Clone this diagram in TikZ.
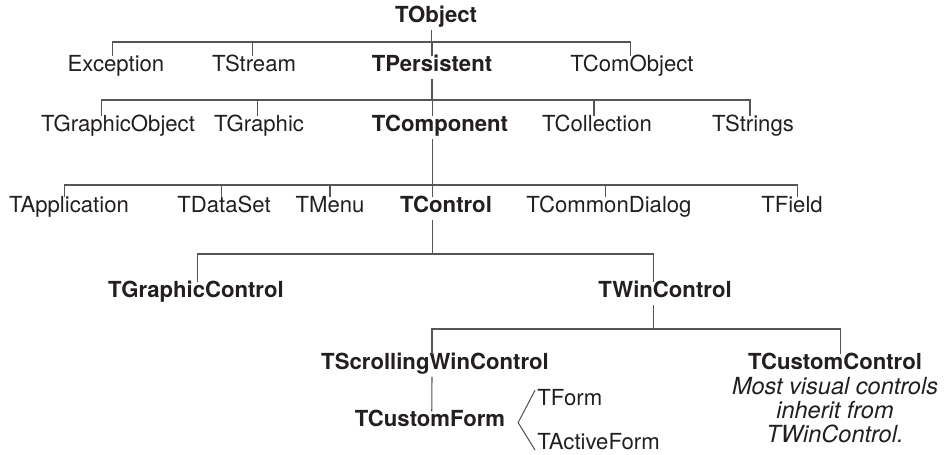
\documentclass[tikz,border=0pt]{standalone}
\usepackage{fontspec}
\setmainfont{TeX Gyre Heros}
\usetikzlibrary{positioning}
\definecolor{InkBlack}{RGB}{35,31,32}
\definecolor{LineGray}{RGB}{85,85,85}

\begin{document}
\begin{tikzpicture}[x=0.02cm,y=-0.02cm,
  cls/.style={anchor=base,inner sep=1.2pt,text=InkBlack,
              text height=0.75em,text depth=0.25em,
              font=\fontsize{12.6}{15}\selectfont},
  keycls/.style={cls,font=\fontsize{12.6}{15}\selectfont\bfseries},
  note/.style={inner sep=0pt,text=InkBlack,align=center,
               font=\fontsize{13.4}{13.6}\selectfont\itshape},
  link/.style={draw=LineGray,line width=0.6pt},
]
\useasboundingbox (0,0) rectangle (951,455);

%% level 0 and 1
\node[keycls] (tobj)    at (436,23)  {TObject};
\node[cls]    (exc)     at (116,72)  {Exception};
\node[cls]    (tstream) at (254,72)  {TStream};
\node[keycls] (tpers)   at (432,72)  {TPersistent};
\node[cls]    (tcom)    at (632,72)  {TComObject};

%% level 2
\node[cls]    (tgobj)   at (118,132) {TGraphicObject};
\node[cls]    (tgraph)  at (259,132) {TGraphic};
\node[keycls] (tcomp)   at (440,132) {TComponent};
\node[cls]    (tcoll)   at (597,132) {TCollection};
\node[cls]    (tstr)    at (753,132) {TStrings};

%% level 3
\node[cls]    (tapp)    at (69,213)  {TApplication};
\node[cls]    (tdata)   at (224,213) {TDataSet};
\node[cls]    (tmenu)   at (330,213) {TMenu};
\node[keycls] (tctrl)   at (446,213) {TControl};
\node[cls]    (tcdlg)   at (609,213) {TCommonDialog};
\node[cls]    (tfield)  at (792,213) {TField};

%% level 4 and below
\node[keycls] (tgctrl)  at (196,298) {TGraphicControl};
\node[keycls] (twin)    at (665,298) {TWinControl};
\node[keycls] (tscroll) at (435,370) {TScrollingWinControl};
\node[keycls] (tcctrl)  at (835,370) {TCustomControl};
\node[note,below=0pt of tcctrl] (hint)
  {Most visual controls\\inherit from\\TWinControl.};
\node[keycls] (tcform)  at (430,427) {TCustomForm};
\node[cls,anchor=base west] (tform)   at (535,406) {TForm};
\node[cls,anchor=base west] (tactive) at (535,450) {TActiveForm};

\coordinate (b1) at (0,42);
\coordinate (b2) at (0,100);
\coordinate (b3) at (0,185);
\coordinate (b4) at (0,254);
\coordinate (b5) at (0,329);

%% TObject
\draw[link] ([xshift=-2.3pt]tobj.south) -- ([xshift=-2.3pt]tobj.south |- b1);
\draw[link] ([xshift=-2pt]exc.north) |- ([xshift=-1pt]tcom.north |- b1)
  -- ([xshift=-1pt]tcom.north);
\draw[link] ([xshift=-1pt]tstream.north) -- ([xshift=-1pt]tstream.north |- b1);
\draw[link] (tpers.north) -- (tpers.north |- b1);

%% TPersistent
\draw[link] (tpers.south) -- (tpers.south |- b2);
\draw[link] ([xshift=-9.4pt]tgobj.north) |- ([xshift=-1.7pt]tstr.north |- b2)
  -- ([xshift=-1.7pt]tstr.north);
\draw[link] ([xshift=-1pt]tgraph.north) -- ([xshift=-1pt]tgraph.north |- b2);
\draw[link] ([xshift=-4.5pt]tcomp.north) -- ([xshift=-4.5pt]tcomp.north |- b2);
\draw[link] ([xshift=-1.7pt]tcoll.north) -- ([xshift=-1.7pt]tcoll.north |- b2);

%% TComponent
\draw[link] ([xshift=-4.5pt]tcomp.south) -- ([xshift=-4.5pt]tcomp.south |- b3);
\draw[link] ([xshift=-2.3pt]tapp.north) |- ([xshift=3.1pt]tfield.north |- b3)
  -- ([xshift=3.1pt]tfield.north);
\draw[link] ([xshift=-1.4pt]tdata.north) -- ([xshift=-1.4pt]tdata.north |- b3);
\draw[link] (tmenu.north) -- (tmenu.north |- b3);
\draw[link] ([xshift=-7.9pt]tctrl.north) -- ([xshift=-7.9pt]tctrl.north |- b3);
\draw[link] ([xshift=-2pt]tcdlg.north) -- ([xshift=-2pt]tcdlg.north |- b3);

%% TControl
\draw[link] ([xshift=-7.9pt]tctrl.south) -- ([xshift=-7.9pt]tctrl.south |- b4);
\draw[link] ([xshift=1pt]tgctrl.north) |- ([xshift=-6.8pt]twin.north |- b4)
  -- ([xshift=-6.8pt]twin.north);

%% TWinControl
\draw[link] ([xshift=-6.8pt]twin.south) -- ([xshift=-6.8pt]twin.south |- b5);
\draw[link] ([xshift=-1.7pt]tscroll.north) |- ([xshift=3.1pt]tcctrl.north |- b5)
  -- ([xshift=3.1pt]tcctrl.north);

%% TScrollingWinControl
\draw[link] ([xshift=-1.7pt]tscroll.south) -- ([xshift=1pt]tcform.north);
\draw[link] (tform.north west) -- ([xshift=6pt]tcform.east) -- (tactive.base west);

\end{tikzpicture}
\end{document}
